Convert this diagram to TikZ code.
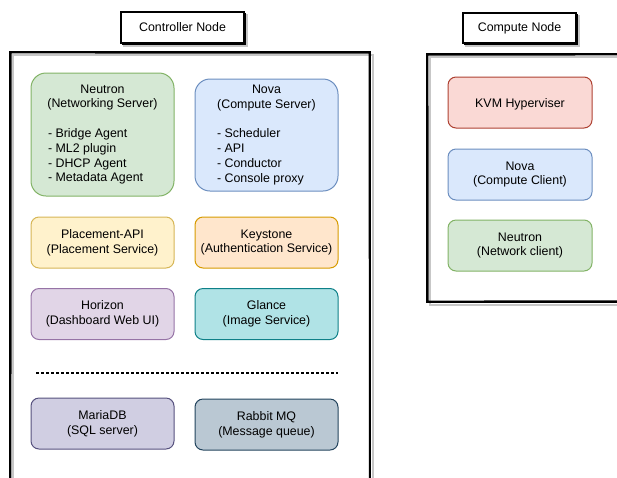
\documentclass[tikz,border=0pt]{standalone}
\usepackage{fontspec}
\setmainfont{Liberation Sans}
\usepackage{xcolor}
\usetikzlibrary{positioning}
\usetikzlibrary{backgrounds}

\definecolor{grnF}{HTML}{D5E8D4}\definecolor{grnD}{HTML}{82B366}
\definecolor{bluF}{HTML}{DAE8FC}\definecolor{bluD}{HTML}{6C8EBF}
\definecolor{yelF}{HTML}{FFF2CC}\definecolor{yelD}{HTML}{D6B656}
\definecolor{orgF}{HTML}{FFE6CC}\definecolor{orgD}{HTML}{D79B00}
\definecolor{purF}{HTML}{E1D5E7}\definecolor{purD}{HTML}{9673A6}
\definecolor{tealF}{HTML}{B0E3E6}\definecolor{tealD}{HTML}{0E8088}
\definecolor{dbF}{HTML}{D0CEE2}\definecolor{dbD}{HTML}{56517E}
\definecolor{mqF}{HTML}{BAC8D3}\definecolor{mqD}{HTML}{23445D}
\definecolor{redF}{HTML}{FAD9D5}\definecolor{redD}{HTML}{AE4132}

\newcommand{\itemline}[2]{\makebox[#1][l]{#2}}

\begin{document}
\begin{tikzpicture}[x=1pt, y=-1pt, font=\fontsize{12.4}{14.8}\selectfont,
    box/.style={rectangle, rounded corners=8pt, draw, line width=1pt, align=center,
        minimum width=143pt, minimum height=51pt, inner sep=0pt,
        execute at begin node={\rule{0pt}{12.5pt}}},
    title/.style={rectangle, draw, line width=1.5pt, fill=white, inner sep=0pt,
        preaction={draw, line width=0.6pt, transform canvas={shift={(0.8pt,-0.8pt)}}}},
    frame/.style={line width=1.5pt},
    frameshadow/.style={line width=1.5pt, black!22}]
        \useasboundingbox (0,0) rectangle (617,477);
        %frames
        \draw[frameshadow] (13,480) -- (13,55) -- (373,55) -- (373,480);
        \draw[frame] (10,480) -- (10,52) -- (370,52) -- (370,480);
        \draw[line width=0.5pt] (11.2,480) -- (11.4,53.2) -- (368.8,53.4) -- (369.2,480);
        \draw[frameshadow] (620,57) -- (430,57) -- (430,305) -- (620,305);
        \draw[frame] (620,54) -- (427,54) -- (427,302) -- (620,302);
        \draw[line width=0.5pt] (620,55.2) -- (428.2,55.4) -- (428.4,300.8) -- (620,300.6);
        %titles
        \node[title, minimum width=123pt, minimum height=31pt] (ctrl) at (182.5,27.5){Controller Node};
        \node[title, minimum width=113pt, minimum height=30pt] (comp) at (519.5,28){Compute Node};
        \begin{scope}[on background layer]
            \fill[black!22] ([shift={(3,3)}]ctrl.north west) rectangle ([shift={(3,3)}]ctrl.south east);
            \fill[black!22] ([shift={(3,3)}]comp.north west) rectangle ([shift={(3,3)}]comp.south east);
        \end{scope}
        %controller node
        \node[box, fill=grnF, draw=grnD, rounded corners=15pt, minimum height=123pt] (neutron) at (102.5,134.5)
            {Neutron\\(Networking Server)\\[14.8pt]\itemline{109pt}{- Bridge Agent}\\\itemline{109pt}{- ML2 plugin}\\
             \itemline{109pt}{- DHCP Agent}\\\itemline{109pt}{- Metadata Agent}};
        \node[box, fill=bluF, draw=bluD, rounded corners=15pt, minimum height=112pt] (nova) at (266.5,135)
            {Nova\\(Compute Server)\\[14.8pt]\itemline{99pt}{- Scheduler}\\\itemline{99pt}{- API}\\
             \itemline{99pt}{- Conductor}\\\itemline{99pt}{- Console proxy}};
        \node[box, fill=yelF, draw=yelD] (placement) at (102.5,242.5){Placement-API\\(Placement Service)};
        \node[box, fill=orgF, draw=orgD] (keystone) at (266.5,242.5){Keystone\\(Authentication Service)};
        \node[box, fill=purF, draw=purD] (horizon) at (102.5,314){Horizon\\(Dashboard Web UI)};
        \node[box, fill=tealF, draw=tealD] (glance) at (266.5,314){Glance\\(Image Service)};
        %separator
        \coordinate (sepL) at (36,373);
        \coordinate (sepR) at (338,373);
        \draw[line width=1.2pt, dash pattern=on 3pt off 2pt] (sepL) -- (sepR);
        \node[box, fill=dbF, draw=dbD] (mariadb) at (102.5,423.5){MariaDB\\(SQL server)};
        \node[box, fill=mqF, draw=mqD] (rabbit) at (266.5,424.5){Rabbit MQ\\(Message queue)};
        %compute node
        \node[box, fill=redF, draw=redD, minimum width=144pt] (kvm) at (520,102.5){KVM Hyperviser};
        \node[box, fill=bluF, draw=bluD, minimum width=144pt] (novaclient) at (520,174.5){Nova\\(Compute Client)};
        \node[box, fill=grnF, draw=grnD, minimum width=144pt] (neutronclient) at (520,245.5){Neutron\\(Network client)};
\end{tikzpicture}
\end{document}
